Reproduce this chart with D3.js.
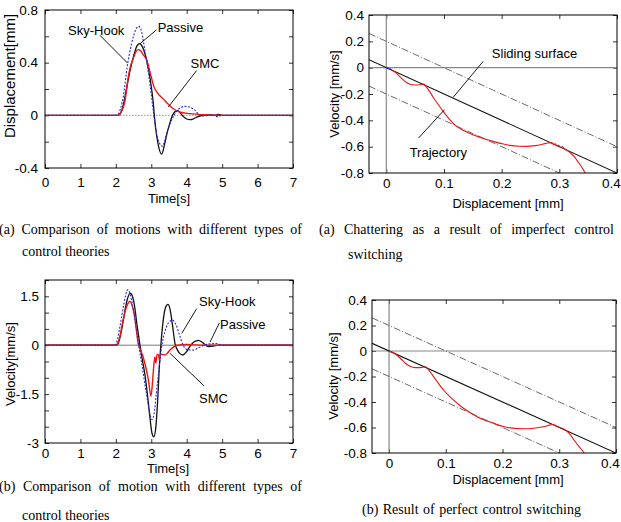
<!DOCTYPE html>
<html>
<head>
<meta charset="utf-8">
<script src="https://cdnjs.cloudflare.com/ajax/libs/d3/7.8.5/d3.min.js"></script>
<style>
body { margin: 0; background: #fff; }
svg { display: block; }
.tick text { font-family: "Liberation Sans", Arial, sans-serif; font-size: 13.5px; fill: #000; }
.tick line { stroke: #000; stroke-width: 0.8; }
.lab { font-family: "Liberation Sans", Arial, sans-serif; font-size: 13px; }
.cap { font-family: "Liberation Serif", "Times New Roman", serif; font-size: 14px; }
</style>
</head>
<body>
<div id="canvas"></div>
<script>
// values: [time s, displacement mm]
const dispSkyHook = [[0,0],[2.0,0],[2.07,0.01],[2.14,0.06],[2.21,0.14],[2.32,0.37],[2.44,0.54],[2.58,0.66],[2.65,0.676],[2.73,0.63],[2.82,0.49],[2.91,0.34],[3.0,0.16],[3.05,0.05],[3.15,-0.14],[3.24,-0.215],[3.31,-0.235],[3.37,-0.2],[3.43,-0.14],[3.52,-0.07],[3.62,-0.01],[3.72,0.035],[3.81,0.055],[3.95,0.068],[4.05,0.065],[4.23,0.04],[4.37,0.0],[4.5,-0.005],[4.7,0.005],[4.85,-0.01],[5.0,0],[7,0]];
const dispPassive = [[0,0],[2.05,0],[2.12,0.01],[2.2,0.07],[2.3,0.2],[2.4,0.34],[2.5,0.45],[2.6,0.53],[2.67,0.545],[2.75,0.52],[2.82,0.47],[2.9,0.38],[2.96,0.29],[3.05,0.11],[3.1,-0.04],[3.19,-0.215],[3.29,-0.295],[3.38,-0.215],[3.45,-0.13],[3.52,-0.063],[3.6,0.0],[3.66,0.025],[3.75,0.035],[3.83,0.015],[3.9,-0.008],[4.0,-0.028],[4.09,-0.033],[4.2,-0.025],[4.3,-0.012],[4.45,0],[4.6,0.005],[4.75,0],[4.9,0.008],[5.0,0],[7,0]];
const dispSMC = [[0,0],[2.05,0],[2.11,0.01],[2.18,0.04],[2.26,0.114],[2.35,0.29],[2.42,0.38],[2.49,0.43],[2.56,0.48],[2.63,0.499],[2.7,0.49],[2.76,0.465],[2.87,0.42],[3.0,0.29],[3.07,0.22],[3.19,0.165],[3.33,0.127],[3.48,0.084],[3.62,0.05],[3.8,0.025],[4.09,0.013],[4.5,0.004],[5,0],[7,0]];

// [time s, velocity mm/s]
const velSkyHook = [[0,0],[1.98,0],[2.05,0.2],[2.12,0.6],[2.2,1.1],[2.27,1.5],[2.33,1.7],[2.38,1.65],[2.45,1.35],[2.52,0.9],[2.6,0.35],[2.66,-0.1],[2.72,-0.5],[2.8,-1.05],[2.88,-1.6],[2.95,-2.05],[3.02,-2.28],[3.08,-2.1],[3.14,-1.5],[3.2,-0.9],[3.3,0.0],[3.38,0.4],[3.48,0.68],[3.6,0.77],[3.7,0.62],[3.8,0.3],[3.9,0.0],[4.0,-0.13],[4.19,-0.15],[4.35,-0.07],[4.5,0],[4.65,0.04],[4.85,0.05],[5.0,0],[7,0]];
const velPassive = [[0,0],[2.0,0],[2.05,0.02],[2.12,0.25],[2.2,0.7],[2.28,1.2],[2.35,1.5],[2.4,1.6],[2.45,1.55],[2.52,1.25],[2.6,0.6],[2.68,0.0],[2.74,-0.4],[2.82,-0.9],[2.89,-1.5],[2.96,-2.2],[3.02,-2.7],[3.07,-2.81],[3.12,-2.6],[3.18,-1.7],[3.23,-0.6],[3.27,0.0],[3.33,0.7],[3.4,1.15],[3.47,1.25],[3.53,1.1],[3.6,0.6],[3.67,0.05],[3.74,-0.15],[3.8,-0.25],[3.89,-0.3],[3.98,-0.22],[4.08,-0.05],[4.2,0.1],[4.33,0.15],[4.45,0.08],[4.6,-0.04],[4.75,-0.03],[4.9,0],[7,0]];
const velSMC = [[0,0],[2.0,0],[2.05,0.05],[2.12,0.3],[2.2,0.75],[2.28,1.1],[2.35,1.3],[2.4,1.35],[2.45,1.25],[2.52,0.95],[2.58,0.45],[2.63,0.05],[2.7,-0.15],[2.77,-0.36],[2.85,-0.7],[2.92,-1.07],[2.99,-1.56],[3.03,-1.2],[3.06,-0.77],[3.1,-0.36],[3.13,-0.55],[3.16,-0.3],[3.2,-0.28],[3.23,-0.45],[3.26,-0.3],[3.3,-0.28],[3.39,-0.3],[3.45,-0.25],[3.53,-0.15],[3.62,-0.06],[3.72,0],[4.0,0.02],[4.5,0],[7,0]];

// phase plane: [displacement mm, velocity mm/s]
const slideSurface = [[-0.03,0.06],[0.4,-0.8]];
const boundUpper = [[-0.03,0.26],[0.4,-0.6]];
const boundLower = [[-0.03,-0.14],[0.4,-1.0]];
const trajStart = [[0,0],[0.005,-0.008],[0.01,-0.018]];
const trajChatter = [[0.01,-0.02],[0.017,-0.04],[0.023,-0.066],[0.03,-0.095],[0.035,-0.113],[0.04,-0.124],[0.046,-0.13],[0.052,-0.132],[0.058,-0.13],[0.065,-0.124],[0.07,-0.15],[0.075,-0.18],[0.082,-0.23],[0.09,-0.28],[0.1,-0.34],[0.11,-0.395],[0.12,-0.44],[0.133,-0.475],[0.145,-0.5],[0.157,-0.52],[0.17,-0.54],[0.185,-0.56],[0.2,-0.577],[0.214,-0.59],[0.23,-0.597],[0.243,-0.598],[0.258,-0.592],[0.272,-0.58],[0.28,-0.572],[0.287,-0.568],[0.29,-0.585],[0.293,-0.578],[0.296,-0.595],[0.299,-0.59],[0.302,-0.607],[0.305,-0.6],[0.309,-0.618],[0.313,-0.627],[0.32,-0.65],[0.325,-0.672],[0.33,-0.7],[0.336,-0.737],[0.345,-0.8],[0.35,-0.84]];
const trajPerfect = [[0.0,0.0],[0.01,-0.02],[0.02,-0.057],[0.03,-0.1],[0.037,-0.12],[0.046,-0.13],[0.055,-0.13],[0.064,-0.124],[0.07,-0.15],[0.076,-0.185],[0.084,-0.235],[0.096,-0.306],[0.11,-0.37],[0.126,-0.431],[0.14,-0.475],[0.155,-0.515],[0.17,-0.545],[0.185,-0.567],[0.2,-0.59],[0.214,-0.603],[0.238,-0.61],[0.255,-0.606],[0.267,-0.598],[0.28,-0.585],[0.288,-0.576],[0.3,-0.598],[0.311,-0.62],[0.32,-0.66],[0.326,-0.698],[0.335,-0.75],[0.344,-0.8],[0.35,-0.84]];

// ticks and labels
const timeTicks = [0,1,2,3,4,5,6,7];
const dispTicks = [-0.4,-0.2,0,0.2,0.4,0.6,0.8];
const dispLabels = [-0.4,0,0.4,0.8];
const velTicks = [-3,-2.5,-2,-1.5,-1,-0.5,0,0.5,1,1.5,2];
const velLabels = [-3,-1.5,0,1.5];
const phaseXTicks = [0,0.1,0.2,0.3,0.4];
const phaseYTicks = [-0.8,-0.6,-0.4,-0.2,0,0.2,0.4];

const width = 621, height = 522;
const svg = d3.select("#canvas").append("svg").attr("width", width).attr("height", height);
let clipId = 0;

function panel(o) {
  const x = d3.scaleLinear().domain(o.xDom).range([o.left, o.right]);
  const y = d3.scaleLinear().domain(o.yDom).range([o.bottom, o.top]);
  const g = svg.append("g");
  const fmt = labels => d => labels.some(l => Math.abs(l - d) < 1e-9) ? String(+d.toFixed(2)) : "";

  const xAxis = g.append("g").attr("transform", `translate(0,${o.bottom})`)
    .call(d3.axisBottom(x).tickValues(o.xTicks).tickSize(-4).tickPadding(o.xPad).tickFormat(fmt(o.xLabels)));
  // the last label sits at the page edge, pull it in
  if (o.lastShift) xAxis.selectAll(".tick:last-of-type text").attr("dx", o.lastShift);
  g.append("g").attr("transform", `translate(0,${o.top})`)
    .call(d3.axisTop(x).tickValues(o.xTicks).tickSize(-4).tickFormat(""));
  g.append("g").attr("transform", `translate(${o.left},0)`)
    .call(d3.axisLeft(y).tickValues(o.yTicks).tickSize(-4).tickPadding(o.yPad).tickFormat(fmt(o.yLabels)));
  g.append("g").attr("transform", `translate(${o.right},0)`)
    .call(d3.axisRight(y).tickValues(o.yTicks).tickSize(-4).tickFormat(""));
  g.selectAll(".domain").remove();

  const id = "clip" + (clipId++);
  svg.append("clipPath").attr("id", id).append("rect")
    .attr("x", o.left).attr("y", o.top).attr("width", o.right - o.left).attr("height", o.bottom - o.top);
  const plot = g.append("g").attr("clip-path", `url(#${id})`);

  g.append("rect").attr("x", o.left).attr("y", o.top)
    .attr("width", o.right - o.left).attr("height", o.bottom - o.top)
    .attr("fill", "none").attr("stroke", "#000").attr("stroke-width", 1);

  const line = d3.line().x(d => x(d[0])).y(d => y(d[1])).curve(d3.curveMonotoneX);
  const straight = d3.line().x(d => x(d[0])).y(d => y(d[1]));

  const draw = (data, color, w, dash, smooth = true) => plot.append("path")
    .datum(data).attr("d", smooth ? line : straight)
    .attr("fill", "none").attr("stroke", color).attr("stroke-width", w)
    .attr("stroke-dasharray", dash || null);

  g.append("text").attr("class", "lab").attr("text-anchor", "middle")
    .attr("x", o.xTitleX).attr("y", o.xTitleY).text(o.xTitle);
  g.append("text").attr("class", "lab").attr("text-anchor", "middle")
    .attr("transform", `translate(${o.yTitleX},${o.yTitleY}) rotate(-90)`)
    .style("font-size", o.yTitleSize + "px").text(o.yTitle);

  const note = (text, tx, ty, from, to) => {
    g.append("text").attr("class", "lab").attr("x", x(tx)).attr("y", y(ty)).text(text);
    g.append("line").attr("x1", x(from[0])).attr("y1", y(from[1]))
      .attr("x2", x(to[0])).attr("y2", y(to[1])).attr("stroke", "#000").attr("stroke-width", 0.9);
  };
  return { x, y, g, plot, draw, note };
}

// justified caption lines: widen word gaps up to the right edge
function caption(text, x0, yb, x1) {
  const t = svg.append("text").attr("class", "cap").attr("x", x0).attr("y", yb).text(text);
  if (x1 != null) {
    const natural = t.node().getComputedTextLength();
    const gaps = (text.match(/ /g) || []).length;
    if (natural < x1 - x0) t.attr("word-spacing", (x1 - x0 - natural) / gaps);
    else t.attr("textLength", x1 - x0).attr("lengthAdjust", "spacingAndGlyphs");
  }
}

// (a) displacement vs time
const p1 = panel({ left: 45, right: 293, top: 10, bottom: 168, xDom: [0, 7], yDom: [-0.4, 0.8],
  xTicks: timeTicks, xLabels: timeTicks, yTicks: dispTicks, yLabels: dispLabels, xPad: 9, yPad: 7,
  xTitle: "Time[s]", xTitleX: 169, xTitleY: 203, yTitle: "Displacement[mm]", yTitleX: 15, yTitleY: 76, yTitleSize: 15 });
p1.plot.append("line").attr("x1", p1.x(0)).attr("x2", p1.x(7)).attr("y1", p1.y(0)).attr("y2", p1.y(0))
  .attr("stroke", "#777").attr("stroke-width", 0.8).attr("stroke-dasharray", "1.5,1.5");
p1.draw(dispPassive, "#111", 1.3);
p1.draw(dispSMC, "#ee1515", 1.4);
p1.draw(dispSkyHook, "#2a2ae0", 1.1, "2,1.5");
p1.note("Sky-Hook", 0.65, 0.61, [1.55, 0.608], [2.33, 0.397]);
p1.note("Passive", 3.18, 0.635, [3.15, 0.65], [2.68, 0.544]);
p1.note("SMC", 4.11, 0.357, [4.28, 0.34], [3.48, 0.063]);

// (b) velocity vs time
const p3 = panel({ left: 45, right: 293, top: 280, bottom: 443, xDom: [0, 7], yDom: [-3, 2],
  xTicks: timeTicks, xLabels: timeTicks, yTicks: velTicks, yLabels: velLabels, xPad: 5, yPad: 6,
  xTitle: "Time[s]", xTitleX: 168, xTitleY: 473, yTitle: "Velocity[mm/s]", yTitleX: 15, yTitleY: 364, yTitleSize: 13 });
p3.plot.append("line").attr("x1", p3.x(0)).attr("x2", p3.x(7)).attr("y1", p3.y(0)).attr("y2", p3.y(0))
  .attr("stroke", "#777").attr("stroke-width", 1);
p3.draw(velPassive, "#111", 1.3);
p3.draw(velSMC, "#ee1515", 1.4);
p3.draw(velSkyHook, "#2a2ae0", 1.1, "2,1.5");
p3.note("Sky-Hook", 4.35, 1.19, [4.28, 1.12], [3.86, 0.36]);
p3.note("Passive", 4.94, 0.5, [4.92, 0.68], [4.66, 0.1]);
p3.note("SMC", 4.35, -1.78, [4.49, -1.25], [3.53, -0.25]);

// phase planes
function phase(o, traj, withNotes) {
  const p = panel(Object.assign({ xDom: [-0.03, 0.4], yDom: [-0.8, 0.4],
    xTicks: phaseXTicks, xLabels: phaseXTicks, yTicks: phaseYTicks, yLabels: phaseYTicks,
    xTitle: "Displacement [mm]", xTitleX: 508, yTitle: "Velocity [mm/s]", yTitleSize: 13, lastShift: -6 }, o));
  p.plot.append("line").attr("x1", p.x(-0.03)).attr("x2", p.x(0.4)).attr("y1", p.y(0)).attr("y2", p.y(0))
    .attr("stroke", "#888").attr("stroke-width", 1.2);
  p.plot.append("line").attr("x1", p.x(0)).attr("x2", p.x(0)).attr("y1", p.y(-0.8)).attr("y2", p.y(0.4))
    .attr("stroke", "#888").attr("stroke-width", 1.2);
  p.draw(boundUpper, "#444", 0.8, "7,2,1,2", false);
  p.draw(boundLower, "#444", 0.8, "7,2,1,2", false);
  p.draw(slideSurface, "#111", 1.1, null, false);
  p.draw(traj, "#ee1515", 1.1);
  if (withNotes) {
    p.draw(trajStart, "#2a2ae0", 1.4, null, false);
    p.note("Sliding surface", 0.183, 0.076, [0.168, 0.048], [0.116, -0.225]);
    p.note("Trajectory", 0.0405, -0.676, [0.056, -0.534], [0.101, -0.319]);
  }
  return p;
}
phase({ left: 369, right: 617, top: 15, bottom: 173, xPad: 5, yPad: 5, xTitleY: 208, yTitleX: 339, yTitleY: 94 }, trajChatter, true);
phase({ left: 372, right: 616, top: 300, bottom: 453, xPad: 5, yPad: 5, xTitleY: 484, yTitleX: 338, yTitleY: 376 }, trajPerfect, false);

// captions
caption("(a) Comparison of motions with different types of", -1, 234, 302);
caption("control theories", 22, 256);
caption("(a) Chattering as a result of imperfect control", 319, 234, 614);
caption("switching", 348, 259);
caption("(b) Comparison of motion with different types of", -1, 491, 302);
caption("control theories", 22, 520);
caption("(b) Result of perfect control switching", 362, 514, 581);
</script>
</body>
</html>
